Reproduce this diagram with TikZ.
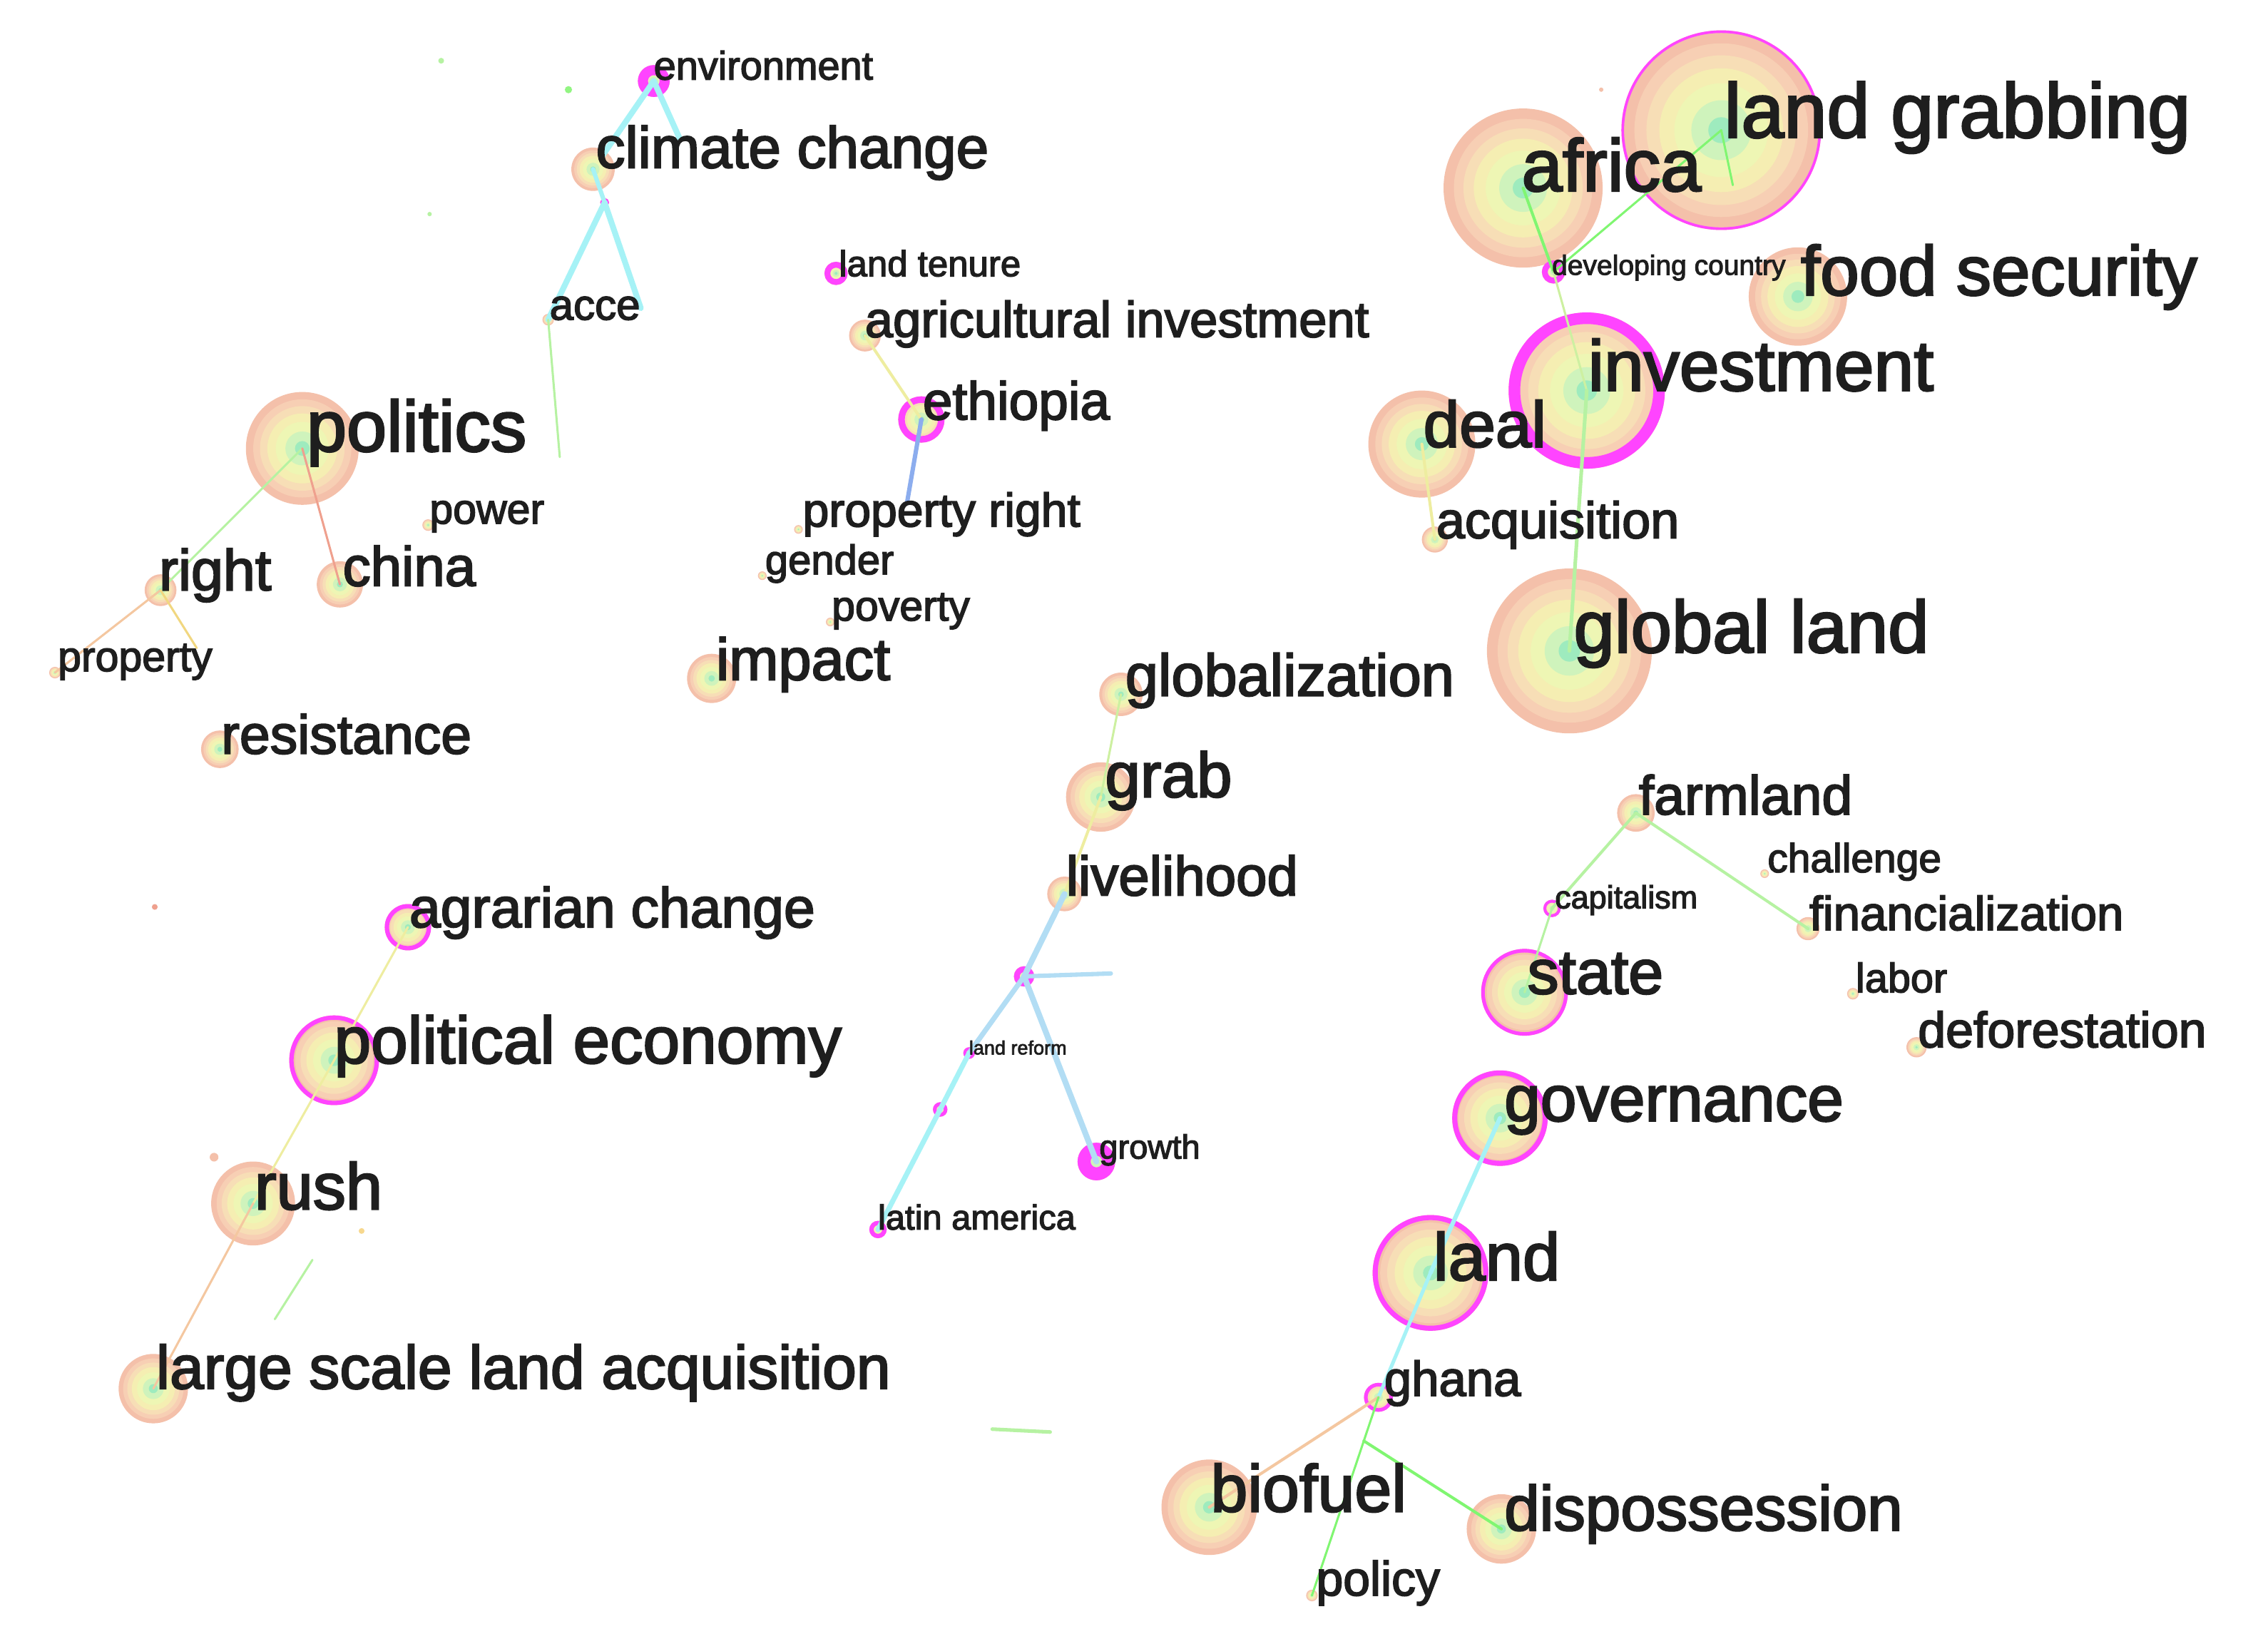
\documentclass[tikz,border=0pt]{standalone}
\usepackage{fontspec}
\setmainfont[FakeBold=2.6]{Liberation Sans}
\usetikzlibrary{calc}
\definecolor{cA}{HTML}{F4C0AA}
\definecolor{cB}{HTML}{F7CFB4}
\definecolor{cC}{HTML}{F7DEB6}
\definecolor{cD}{HTML}{F5EEB2}
\definecolor{cE}{HTML}{EEF6B4}
\definecolor{cF}{HTML}{CFF3BC}
\definecolor{cG}{HTML}{9EEBBE}
\definecolor{magc}{HTML}{FF44FF}
\definecolor{txt}{HTML}{1E1E1E}
\definecolor{ecyan}{HTML}{A6F2F6}
\definecolor{eblue}{HTML}{B2DDF4}
\definecolor{edblue}{HTML}{8CADEE}
\definecolor{egreen}{HTML}{B6F2A2}
\definecolor{eyellow}{HTML}{EEEDA0}
\definecolor{eorange}{HTML}{F4C7A0}
\definecolor{ered}{HTML}{EFA08E}
\newcommand{\tr}[2]{%
  \fill[cA] (#1) circle[radius=#2];
  \fill[cB] (#1) circle[radius=0.87*#2];
  \fill[cC] (#1) circle[radius=0.75*#2];
  \fill[cD] (#1) circle[radius=0.62*#2];
  \fill[cE] (#1) circle[radius=0.47*#2];
  \fill[cF] (#1) circle[radius=0.30*#2];
  \fill[cG] (#1) circle[radius=0.13*#2];}
\newcommand{\mr}[3]{\draw[magc, line width=#3*0.2028mm] (#1) circle[radius=#2-#3/2];}
\newcommand{\kw}[5]{\node[labst, font=\fontsize{#4}{#4}\selectfont] (#1) at (#2,#3) {#5};}
\tikzset{
  labst/.style={anchor=base west, inner sep=0pt, outer sep=0pt, text=txt},
  lw/.style={line width=#1*0.2028mm},
}
\begin{document}
\begin{tikzpicture}[x=0.2028mm,y=-0.2028mm, line cap=round]
\useasboundingbox (0,0) rectangle (1568,1140);
\fill[white] (0,0) rectangle (1568,1140);
% keyword positions
\coordinate (environment) at (452,56);
\coordinate (climate) at (410,117);
\coordinate (cctiny) at (418,140);
\coordinate (acce) at (379,221);
\coordinate (landtenure) at (578,189);
\coordinate (agrinv) at (598,232);
\coordinate (ethiopia) at (637,290);
\coordinate (politics) at (209,310);
\coordinate (power) at (296,363);
\coordinate (nright) at (111,408);
\coordinate (china) at (235,404);
\coordinate (property) at (38,465);
\coordinate (resistance) at (152,518);
\coordinate (propright) at (552,366);
\coordinate (gender) at (527,398);
\coordinate (poverty) at (574,430);
\coordinate (impact) at (492,469);
\coordinate (globalization) at (775,480);
\coordinate (grab) at (761,551);
\coordinate (livelihood) at (736,618);
\coordinate (mtiny1) at (708,675);
\coordinate (landreform) at (670,728);
\coordinate (mtiny2) at (650,767);
\coordinate (growth) at (758,803);
\coordinate (latinamerica) at (607,850);
\coordinate (agrarian) at (282,641);
\coordinate (polecon) at (231,733);
\coordinate (rush) at (175,832);
\coordinate (lsla) at (106,960);
\coordinate (landgrabbing) at (1190,90);
\coordinate (africa) at (1053,130);
\coordinate (devcountry) at (1074,188);
\coordinate (foodsec) at (1243,205);
\coordinate (investment) at (1097,270);
\coordinate (deal) at (983,307);
\coordinate (acquisition) at (992,373);
\coordinate (globalland) at (1085,450);
\coordinate (farmland) at (1131,562);
\coordinate (challenge) at (1220,604);
\coordinate (capitalism) at (1073,628);
\coordinate (financialization) at (1250,642);
\coordinate (state) at (1054,686);
\coordinate (labor) at (1281,687);
\coordinate (deforestation) at (1325,724);
\coordinate (governance) at (1037,773);
\coordinate (land) at (989,880);
\coordinate (ghana) at (953,966);
\coordinate (biofuel) at (836,1042);
\coordinate (dispossession) at (1038,1057);
\coordinate (policy) at (907,1103);
% free ends
\coordinate (envr) at (470,96);
\coordinate (ccr) at (443,213);
\coordinate (acced) at (387,316);
\coordinate (ethd) at (627,348);
\coordinate (rightd) at (136,448);
\coordinate (mt1r) at (768,673);
\coordinate (lgd) at (1198,128);
\coordinate (fg1) at (190,912);
\coordinate (fg2) at (216,871);
\coordinate (fg3) at (686,988);
\coordinate (fg4) at (726,990);
% stray dots
\fill[egreen] (305,42) circle[radius=2];
\fill[egreen!80!green] (393,62) circle[radius=2.5];
\fill[egreen] (297,148) circle[radius=1.5];
\fill[ered] (107,627) circle[radius=2];
\fill[cA] (148,800) circle[radius=3];
\fill[cD!80!orange] (250,851) circle[radius=2];
\fill[cA] (1107,62) circle[radius=1.5];
% tree rings
\tr{environment}{11} \mr{environment}{11}{7}
\tr{climate}{15}
\tr{cctiny}{3} \mr{cctiny}{3}{2}
\tr{acce}{4}
\tr{landtenure}{8} \mr{landtenure}{8}{4}
\tr{agrinv}{11}
\tr{ethiopia}{16} \mr{ethiopia}{16}{4.5}
\tr{politics}{39}
\tr{power}{4}
\tr{nright}{11}
\tr{china}{16}
\tr{property}{4}
\tr{resistance}{13}
\tr{propright}{3}
\tr{gender}{3}
\tr{poverty}{3}
\tr{impact}{17}
\tr{globalization}{15}
\tr{grab}{24}
\tr{livelihood}{12}
\tr{mtiny1}{7} \mr{mtiny1}{7}{4}
\tr{landreform}{4} \mr{landreform}{4}{2}
\tr{mtiny2}{5} \mr{mtiny2}{5}{2.5}
\tr{growth}{13} \mr{growth}{13}{9}
\tr{latinamerica}{6} \mr{latinamerica}{6}{3}
\tr{agrarian}{16} \mr{agrarian}{16}{3}
\tr{polecon}{31} \mr{polecon}{31}{3}
\tr{rush}{29}
\tr{lsla}{24}
\tr{landgrabbing}{69} \mr{landgrabbing}{69}{1.8}
\tr{africa}{55}
\tr{devcountry}{8} \mr{devcountry}{8}{4}
\tr{foodsec}{34}
\tr{investment}{54} \mr{investment}{54}{8}
\tr{deal}{37}
\tr{acquisition}{9}
\tr{globalland}{57}
\tr{farmland}{13}
\tr{challenge}{3}
\tr{capitalism}{6} \mr{capitalism}{6}{2}
\tr{financialization}{8}
\tr{state}{30} \mr{state}{30}{2.5}
\tr{labor}{4}
\tr{deforestation}{7}
\tr{governance}{33} \mr{governance}{33}{3.5}
\tr{land}{40} \mr{land}{40}{3.5}
\tr{ghana}{10} \mr{ghana}{10}{2.5}
\tr{biofuel}{33}
\tr{dispossession}{24}
\tr{policy}{4}
% links
\draw[ecyan, lw=4] (environment) -- ($(environment)!0.85!(climate)$);
\draw[ecyan, lw=4] (environment) -- (envr);
\draw[ecyan, lw=3] (climate) -- (cctiny);
\draw[ecyan, lw=4] (cctiny) -- (acce);
\draw[ecyan, lw=4] (cctiny) -- (ccr);
\draw[egreen, lw=1.5] (acce) -- (acced);
\draw[eyellow, lw=2] (agrinv) -- (ethiopia);
\draw[edblue, lw=3] (ethiopia) -- (ethd);
\draw[egreen, lw=1.5] (politics) -- (nright);
\draw[ered, lw=1.5] (politics) -- (china);
\draw[eorange, lw=1.5] (nright) -- (property);
\draw[eyellow!80!orange, lw=1.5] (nright) -- (rightd);
\draw[egreen!60!eyellow, lw=1.5] (globalization) -- (grab);
\draw[eyellow, lw=2] (grab) -- (livelihood);
\draw[eblue, lw=4] (livelihood) -- (mtiny1);
\draw[eblue, lw=3.5] (mtiny1) -- (landreform);
\draw[ecyan, lw=3.5] (landreform) -- (mtiny2);
\draw[ecyan, lw=3.5] (mtiny2) -- (latinamerica);
\draw[eblue, lw=4] (mtiny1) -- (growth);
\draw[eblue, lw=3] (mtiny1) -- (mt1r);
\draw[eyellow, lw=1.5] (agrarian) -- (polecon);
\draw[eyellow, lw=1.5] (polecon) -- (rush);
\draw[eorange, lw=1.5] (rush) -- (lsla);
\draw[egreen, lw=1.5] (fg1) -- (fg2);
\draw[egreen, lw=2.5] (fg3) -- (fg4);
\draw[egreen!70!green, lw=1.5] (landgrabbing) -- (devcountry);
\draw[egreen!70!green, lw=1.5] (landgrabbing) -- (lgd);
\draw[egreen!70!green, lw=2] (africa) -- (devcountry);
\draw[egreen!60!eyellow, lw=1.5] (devcountry) -- (investment);
\draw[egreen, lw=2.5] (investment) -- (globalland);
\draw[eyellow, lw=2] (deal) -- (acquisition);
\draw[egreen, lw=2] (farmland) -- (capitalism);
\draw[egreen, lw=2] (farmland) -- (financialization);
\draw[egreen, lw=1.5] (capitalism) -- (state);
\draw[ecyan, lw=3] (governance) -- (land);
\draw[ecyan, lw=2.5] (land) -- (ghana);
\draw[eorange, lw=2] (ghana) -- (biofuel);
\draw[egreen!70!green, lw=1.5] (ghana) -- (policy);
\draw[egreen!70!green, lw=2] ($(ghana)!0.22!(policy)$) -- (dispossession);
% labels
\kw{environment-t}{452}{55}{15.9}{environment}
\kw{climate-t}{412}{116}{23.3}{climate change}
\kw{acce-t}{380}{221}{17.1}{acce}
\kw{landtenure-t}{580}{191}{14.5}{land tenure}
\kw{agrinv-t}{598}{233}{20.1}{agricultural investment}
\kw{ethiopia-t}{638}{290}{21.3}{ethiopia}
\kw{politics-t}{212}{312}{28.7}{politics}
\kw{power-t}{297}{362}{16.8}{power}
\kw{nright-t}{110}{408}{23}{right}
\kw{china-t}{237}{405}{22.2}{china}
\kw{property-t}{40}{464}{16.8}{property}
\kw{resistance-t}{153}{521}{21.9}{resistance}
\kw{propright-t}{555}{364}{18.8}{property right}
\kw{gender-t}{529}{397}{16.5}{gender}
\kw{poverty-t}{575}{429}{16.8}{poverty}
\kw{impact-t}{495}{470}{23.6}{impact}
\kw{globalization-t}{778}{481}{23.6}{globalization}
\kw{grab-t}{764}{551}{25.3}{grab}
\kw{livelihood-t}{737}{619}{22.2}{livelihood}
\kw{landreform-t}{670}{729}{7.7}{land reform}
\kw{growth-t}{760}{801}{13.4}{growth}
\kw{latinamerica-t}{607}{850}{13.9}{latin america}
\kw{agrarian-t}{283}{641}{22.4}{agrarian change}
\kw{polecon-t}{231}{735}{26.4}{political economy}
\kw{rush-t}{176}{836}{26.2}{rush}
\kw{lsla-t}{108}{960}{24.4}{large scale land acquisition}
\kw{landgrabbing-t}{1192}{95}{30.7}{land grabbing}
\kw{africa-t}{1052}{132}{29.3}{africa}
\kw{devcountry-t}{1073}{190}{11.1}{developing country}
\kw{foodsec-t}{1245}{204}{27.9}{food security}
\kw{investment-t}{1098}{270}{28.5}{investment}
\kw{deal-t}{984}{309}{25.9}{deal}
\kw{acquisition-t}{993}{372}{20.5}{acquisition}
\kw{globalland-t}{1088}{451}{29.3}{global land}
\kw{farmland-t}{1133}{563}{21.9}{farmland}
\kw{challenge-t}{1222}{603}{16.2}{challenge}
\kw{capitalism-t}{1075}{628}{12.8}{capitalism}
\kw{financialization-t}{1251}{643}{19.1}{financialization}
\kw{state-t}{1056}{687}{25}{state}
\kw{labor-t}{1283}{686}{16.4}{labor}
\kw{deforestation-t}{1326}{724}{19.9}{deforestation}
\kw{governance-t}{1040}{775}{25.9}{governance}
\kw{land-t}{991}{885}{26.7}{land}
\kw{ghana-t}{957}{965}{19.6}{ghana}
\kw{biofuel-t}{837}{1045}{26.5}{biofuel}
\kw{dispossession-t}{1040}{1058}{25.3}{dispossession}
\kw{policy-t}{910}{1103}{19.3}{policy}
\end{tikzpicture}
\end{document}
